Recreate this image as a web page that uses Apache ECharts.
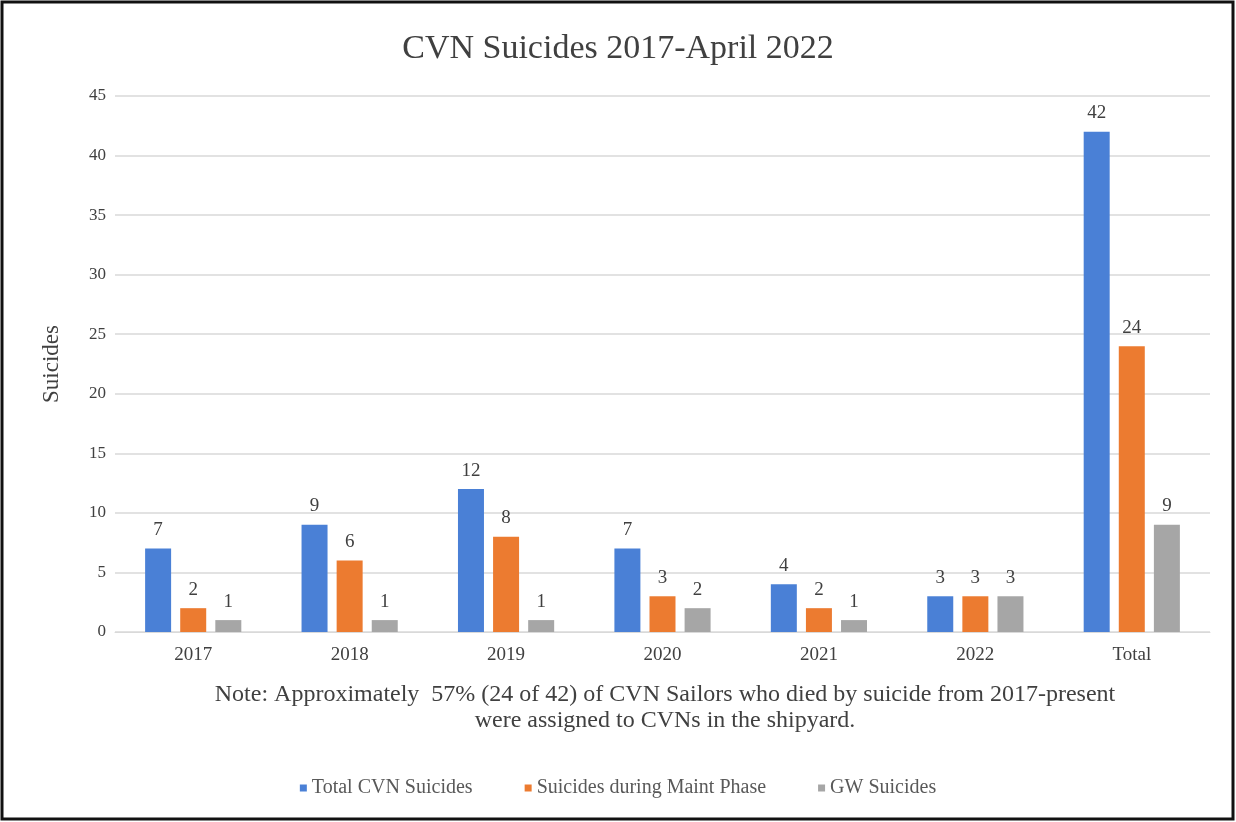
<!DOCTYPE html>
<html>
<head>
<meta charset="utf-8">
<script src="https://cdn.jsdelivr.net/npm/echarts@6/dist/echarts.min.js"></script>
<style>
html,body{margin:0;padding:0;background:#fff;}
#chart{width:1236px;height:822px;}
</style>
</head>
<body>
<div id="chart"></div>
<script>
const categories = ['2017', '2018', '2019', '2020', '2021', '2022', 'Total'];
const totalCVN = [7, 9, 12, 7, 4, 3, 42];
const maintPhase = [2, 6, 8, 3, 2, 3, 24];
const gwSuicides = [1, 1, 1, 2, 1, 3, 9];
const seriesNames = ['Total CVN Suicides', 'Suicides during Maint Phase', 'GW Suicides'];
const colors = ['#4a80d6', '#ec7b30', '#a6a6a6'];
const titleText = 'CVN Suicides 2017-April 2022';
const noteLines = ['Note: Approximately  57% (24 of 42) of CVN Sailors who died by suicide from 2017-present', 'were assigned to CVNs in the shipyard.'];

const FONT = '"Liberation Serif", "DejaVu Serif", serif';
const chart = echarts.init(document.getElementById('chart'));
const mk = (name, data, color) => ({
  name, type: 'bar', data,
  barWidth: 26, barGap: '35%',
  itemStyle: { color },
  label: { show: true, position: 'top', distance: 9, color: '#404040', fontFamily: FONT, fontSize: 19 }
});
chart.setOption({
  animation: false,
  backgroundColor: '#fff',
  color: colors,
  title: {
    text: titleText, left: 'center', top: 27,
    textStyle: { fontFamily: FONT, fontSize: 34, fontWeight: 'normal', color: '#404040' }
  },
  graphic: [
    { type: 'rect', shape: { x: 2, y: 2, width: 1231, height: 817 }, style: { fill: 'none', stroke: '#111', lineWidth: 3 }, z: 100 },
    { type: 'text', x: 665, y: 682, style: { text: noteLines.join('\n'), fontFamily: FONT, fontSize: 24, fill: '#404040', align: 'center', verticalAlign: 'top', lineHeight: 26 } }
  ],
  legend: {
    bottom: 19, left: 'center', itemWidth: 7, itemHeight: 7, itemGap: 52, icon: 'rect',
    textStyle: { fontFamily: FONT, fontSize: 20, color: '#595959' },
    data: seriesNames
  },
  grid: { left: 115, right: 26, top: 96, bottom: 190 },
  xAxis: {
    type: 'category', data: categories,
    axisLine: { lineStyle: { color: '#d9d9d9' } },
    axisTick: { show: false },
    axisLabel: { fontFamily: FONT, fontSize: 19, color: '#404040', margin: 14 }
  },
  yAxis: {
    type: 'value', min: 0, max: 45, interval: 5,
    name: 'Suicides', nameLocation: 'middle', nameGap: 52,
    nameTextStyle: { fontFamily: FONT, fontSize: 23, color: '#404040' },
    axisLabel: { fontFamily: FONT, fontSize: 17, color: '#404040', margin: 9 },
    splitLine: { lineStyle: { color: '#d9d9d9', width: 1.5 } }
  },
  series: [
    mk(seriesNames[0], totalCVN, colors[0]),
    mk(seriesNames[1], maintPhase, colors[1]),
    mk(seriesNames[2], gwSuicides, colors[2])
  ]
});
</script>
</body>
</html>
